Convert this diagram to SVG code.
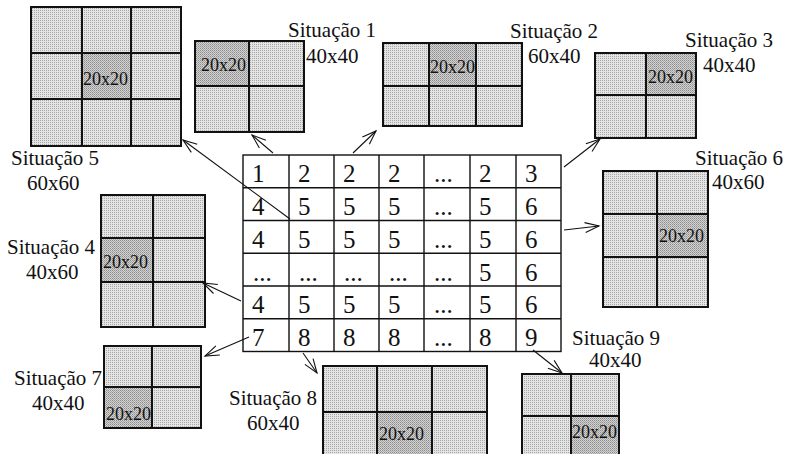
<svg xmlns="http://www.w3.org/2000/svg" width="787" height="454" viewBox="0 0 787 454" font-family="'Liberation Serif', 'Times New Roman', 'DejaVu Serif', serif">
  <style>
    text { font-family: 'Liberation Serif', 'Times New Roman', 'DejaVu Serif', serif; fill: #111; }
    .lbl { font-size: 21px; }
    .cellTxt { font-size: 18px; }
    .num { font-size: 25px; }
    .grid { stroke: #111; stroke-width: 2; fill: none; }
    .tbl { stroke: #111; stroke-width: 1.4; fill: none; }
    .conn { stroke: #111; stroke-width: 1.1; fill: none; marker-end: url(#openArrow); }
  </style>
  <defs>
    <!-- stippled screen tones -->
    <pattern id="dotsLight" width="2" height="2" patternUnits="userSpaceOnUse">
      <rect width="2" height="2" fill="#e4e4e4"/>
      <rect width="1" height="1" fill="#a8a8a8"/>
    </pattern>
    <pattern id="dotsDark" width="2" height="2" patternUnits="userSpaceOnUse">
      <rect width="2" height="2" fill="#d2d2d2"/>
      <rect width="1" height="1" fill="#8c8c8c"/>
      <rect x="1" y="1" width="1" height="1" fill="#a8a8a8"/>
    </pattern>
    <marker id="openArrow" viewBox="-16 -7 18 14" refX="0" refY="0" markerWidth="18" markerHeight="14" markerUnits="userSpaceOnUse" orient="auto">
      <path d="M-14,-5 L0,0 L-14,5" fill="none" stroke="#111" stroke-width="1.1"/>
    </marker>
  </defs>

  <rect width="787" height="454" fill="#ffffff"/>

  <!-- central 6x7 block table -->
  <g id="table">
    <rect x="243" y="155" width="318" height="196.5" fill="#ffffff" class="tbl"/>
    <path class="tbl" d="M289,155V351.5 M334,155V351.5 M379,155V351.5 M424,155V351.5 M470,155V351.5 M516,155V351.5
                         M243,187.75H561 M243,220.5H561 M243,253.25H561 M243,286H561 M243,318.75H561"/>
    <g class="num">
      <text class="num" x="252" y="182.25">1</text><text class="num" x="298" y="182.25">2</text><text class="num" x="343" y="182.25">2</text><text class="num" x="388" y="182.25">2</text><text class="num" x="434" y="182.25">...</text><text class="num" x="479" y="182.25">2</text><text class="num" x="525" y="182.25">3</text>
      <text class="num" x="252" y="215">4</text><text class="num" x="298" y="215">5</text><text class="num" x="343" y="215">5</text><text class="num" x="388" y="215">5</text><text class="num" x="434" y="215">...</text><text class="num" x="479" y="215">5</text><text class="num" x="525" y="215">6</text>
      <text class="num" x="252" y="247.75">4</text><text class="num" x="298" y="247.75">5</text><text class="num" x="343" y="247.75">5</text><text class="num" x="388" y="247.75">5</text><text class="num" x="434" y="247.75">...</text><text class="num" x="479" y="247.75">5</text><text class="num" x="525" y="247.75">6</text>
      <text class="num" x="253" y="280.5">...</text><text class="num" x="299" y="280.5">...</text><text class="num" x="344" y="280.5">...</text><text class="num" x="389" y="280.5">...</text><text class="num" x="434" y="280.5">...</text><text class="num" x="479" y="280.5">5</text><text class="num" x="525" y="280.5">6</text>
      <text class="num" x="252" y="313.25">4</text><text class="num" x="298" y="313.25">5</text><text class="num" x="343" y="313.25">5</text><text class="num" x="388" y="313.25">5</text><text class="num" x="434" y="313.25">...</text><text class="num" x="479" y="313.25">5</text><text class="num" x="525" y="313.25">6</text>
      <text class="num" x="252" y="346">7</text><text class="num" x="298" y="346">8</text><text class="num" x="343" y="346">8</text><text class="num" x="388" y="346">8</text><text class="num" x="434" y="346">...</text><text class="num" x="479" y="346">8</text><text class="num" x="525" y="346">9</text>
    </g>
  </g>

  <!-- Situação 5: 60x60 -->
  <g id="sit5">
    <rect x="31" y="7" width="150" height="139" fill="url(#dotsLight)"/>
    <rect x="82" y="53" width="49" height="46" fill="url(#dotsDark)"/>
    <path class="grid" d="M82,7V146 M131,7V146 M31,53H181 M31,99H181"/>
    <rect x="31" y="7" width="150" height="139" class="grid"/>
    <text class="cellTxt" x="83" y="85">20x20</text>
    <text class="lbl" x="11" y="165">Situação 5</text>
    <text class="lbl" x="27" y="190">60x60</text>
  </g>

  <!-- Situação 1: 40x40 -->
  <g id="sit1">
    <rect x="195" y="41" width="109" height="91" fill="url(#dotsLight)"/>
    <rect x="195" y="41" width="54" height="45" fill="url(#dotsDark)"/>
    <path class="grid" d="M249,41V132 M195,86H304"/>
    <rect x="195" y="41" width="109" height="91" class="grid"/>
    <text class="cellTxt" x="201" y="71">20x20</text>
    <text class="lbl" x="288" y="37">Situação 1</text>
    <text class="lbl" x="306" y="63">40x40</text>
  </g>

  <!-- Situação 2: 60x40 -->
  <g id="sit2">
    <rect x="383" y="43" width="139" height="83" fill="url(#dotsLight)"/>
    <rect x="429" y="43" width="47" height="43" fill="url(#dotsDark)"/>
    <path class="grid" d="M429,43V126 M476,43V126 M383,86H522"/>
    <rect x="383" y="43" width="139" height="83" class="grid"/>
    <text class="cellTxt" x="430" y="73">20x20</text>
    <text class="lbl" x="510" y="38">Situação 2</text>
    <text class="lbl" x="528" y="63">60x40</text>
  </g>

  <!-- Situação 3: 40x40 -->
  <g id="sit3">
    <rect x="595" y="53" width="101" height="85" fill="url(#dotsLight)"/>
    <rect x="646" y="53" width="50" height="42" fill="url(#dotsDark)"/>
    <path class="grid" d="M646,53V138 M595,95H696"/>
    <rect x="595" y="53" width="101" height="85" class="grid"/>
    <text class="cellTxt" x="648" y="83">20x20</text>
    <text class="lbl" x="685" y="47">Situação 3</text>
    <text class="lbl" x="703" y="72">40x40</text>
  </g>

  <!-- Situação 6: 40x60 -->
  <g id="sit6">
    <rect x="603" y="171" width="105" height="136" fill="url(#dotsLight)"/>
    <rect x="657" y="214" width="51" height="43" fill="url(#dotsDark)"/>
    <path class="grid" d="M657,171V307 M603,214H708 M603,257H708"/>
    <rect x="603" y="171" width="105" height="136" class="grid"/>
    <text class="cellTxt" x="659" y="242">20x20</text>
    <text class="lbl" x="695" y="165">Situação 6</text>
    <text class="lbl" x="712" y="189">40x60</text>
  </g>

  <!-- Situação 4: 40x60 -->
  <g id="sit4">
    <rect x="101" y="195" width="104" height="132" fill="url(#dotsLight)"/>
    <rect x="101" y="238" width="52" height="44" fill="url(#dotsDark)"/>
    <path class="grid" d="M153,195V327 M101,238H205 M101,282H205"/>
    <rect x="101" y="195" width="104" height="132" class="grid"/>
    <text class="cellTxt" x="103" y="268">20x20</text>
    <text class="lbl" x="7" y="254">Situação 4</text>
    <text class="lbl" x="26" y="279">40x60</text>
  </g>

  <!-- Situação 7: 40x40 -->
  <g id="sit7">
    <rect x="104" y="346" width="97" height="82" fill="url(#dotsLight)"/>
    <rect x="104" y="387" width="48" height="41" fill="url(#dotsDark)"/>
    <path class="grid" d="M152,346V428 M104,387H201"/>
    <rect x="104" y="346" width="97" height="82" class="grid"/>
    <text class="cellTxt" x="106" y="420">20x20</text>
    <text class="lbl" x="14" y="385">Situação 7</text>
    <text class="lbl" x="32" y="410">40x40</text>
  </g>

  <!-- Situação 8: 60x40 -->
  <g id="sit8">
    <rect x="323" y="366" width="164" height="94" fill="url(#dotsLight)"/>
    <rect x="377" y="412" width="55" height="48" fill="url(#dotsDark)"/>
    <path class="grid" d="M377,366V460 M432,366V460 M323,412H487"/>
    <rect x="323" y="366" width="164" height="94" class="grid"/>
    <text class="cellTxt" x="379" y="440">20x20</text>
    <text class="lbl" x="229" y="405">Situação 8</text>
    <text class="lbl" x="247" y="430">60x40</text>
  </g>

  <!-- Situação 9: 40x40 -->
  <g id="sit9">
    <rect x="522" y="374" width="97" height="86" fill="url(#dotsLight)"/>
    <rect x="571" y="416" width="48" height="44" fill="url(#dotsDark)"/>
    <path class="grid" d="M571,374V460 M522,416H619"/>
    <rect x="522" y="374" width="97" height="86" class="grid"/>
    <text class="cellTxt" x="572" y="438">20x20</text>
    <text class="lbl" x="572" y="345">Situação 9</text>
    <text class="lbl" x="589" y="367">40x40</text>
  </g>

  <!-- arrows from table blocks to each case -->
  <g id="connectors">
    <line class="conn" x1="290" y1="219" x2="183" y2="140"/>
    <line class="conn" x1="273" y1="153" x2="252" y2="135"/>
    <line class="conn" x1="353" y1="153" x2="376" y2="131"/>
    <line class="conn" x1="564" y1="167" x2="600" y2="139"/>
    <line class="conn" x1="564" y1="230" x2="599" y2="226"/>
    <line class="conn" x1="241" y1="301" x2="203" y2="283"/>
    <line class="conn" x1="249" y1="337" x2="205" y2="356"/>
    <line class="conn" x1="303" y1="353" x2="317" y2="373"/>
    <line class="conn" x1="533" y1="350" x2="562" y2="373"/>
  </g>
</svg>
